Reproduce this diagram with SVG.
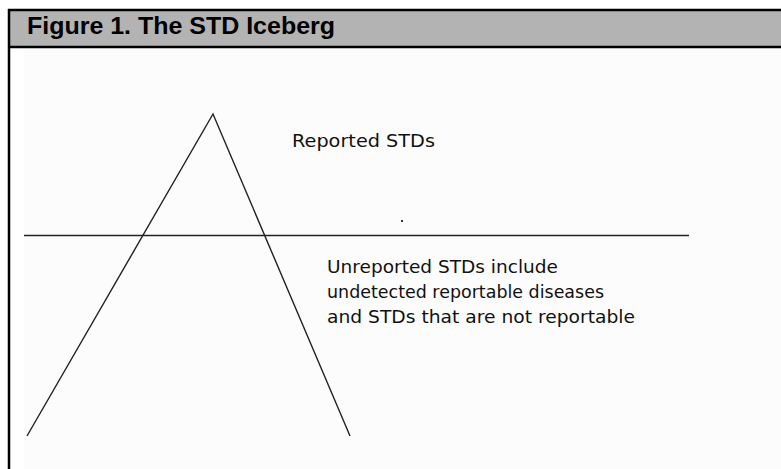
<svg xmlns="http://www.w3.org/2000/svg" width="781" height="469" viewBox="0 0 781 469">
<style>
.title{font-family:"Liberation Sans",Arial,sans-serif;font-weight:bold;font-size:23px;fill:#000}
.lbl{font-family:"DejaVu Sans","Verdana",sans-serif;font-size:18px;fill:#111}
.ln{stroke:#222;stroke-width:1.4;fill:none}
</style>
<rect x="0" y="0" width="781" height="469" fill="#ffffff"/>
<rect x="24" y="49" width="757" height="420" fill="#fcfcfc"/>
<g id="header">
<rect x="9" y="10" width="772" height="37" fill="#b3b3b3"/>
<line x1="8" y1="10" x2="781" y2="10" stroke="#000" stroke-width="2.5"/>
<line x1="8" y1="47" x2="781" y2="47" stroke="#000" stroke-width="2.5"/>
<line x1="9" y1="9" x2="9" y2="469" stroke="#000" stroke-width="2.5"/>
<text class="title" x="27" y="34" textLength="308" lengthAdjust="spacingAndGlyphs">Figure 1. The STD Iceberg</text>
</g>
<g id="connectors">
<polyline id="iceberg" class="ln" points="27,436 213,114 350,436"/>
<line id="waterline" class="ln" x1="24" y1="235.5" x2="689" y2="235.5" stroke-width="2"/>
<rect x="401" y="220" width="2" height="2" fill="#333"/>
</g>
<g id="reported">
<text class="lbl" x="292" y="147" textLength="143" lengthAdjust="spacingAndGlyphs">Reported STDs</text>
</g>
<g id="unreported">
<text class="lbl" x="327" y="273" textLength="231" lengthAdjust="spacingAndGlyphs">Unreported STDs include</text>
<text class="lbl" x="327" y="298" textLength="277" lengthAdjust="spacingAndGlyphs">undetected reportable diseases</text>
<text class="lbl" x="327" y="323" textLength="308" lengthAdjust="spacingAndGlyphs">and STDs that are not reportable</text>
</g>
</svg>
